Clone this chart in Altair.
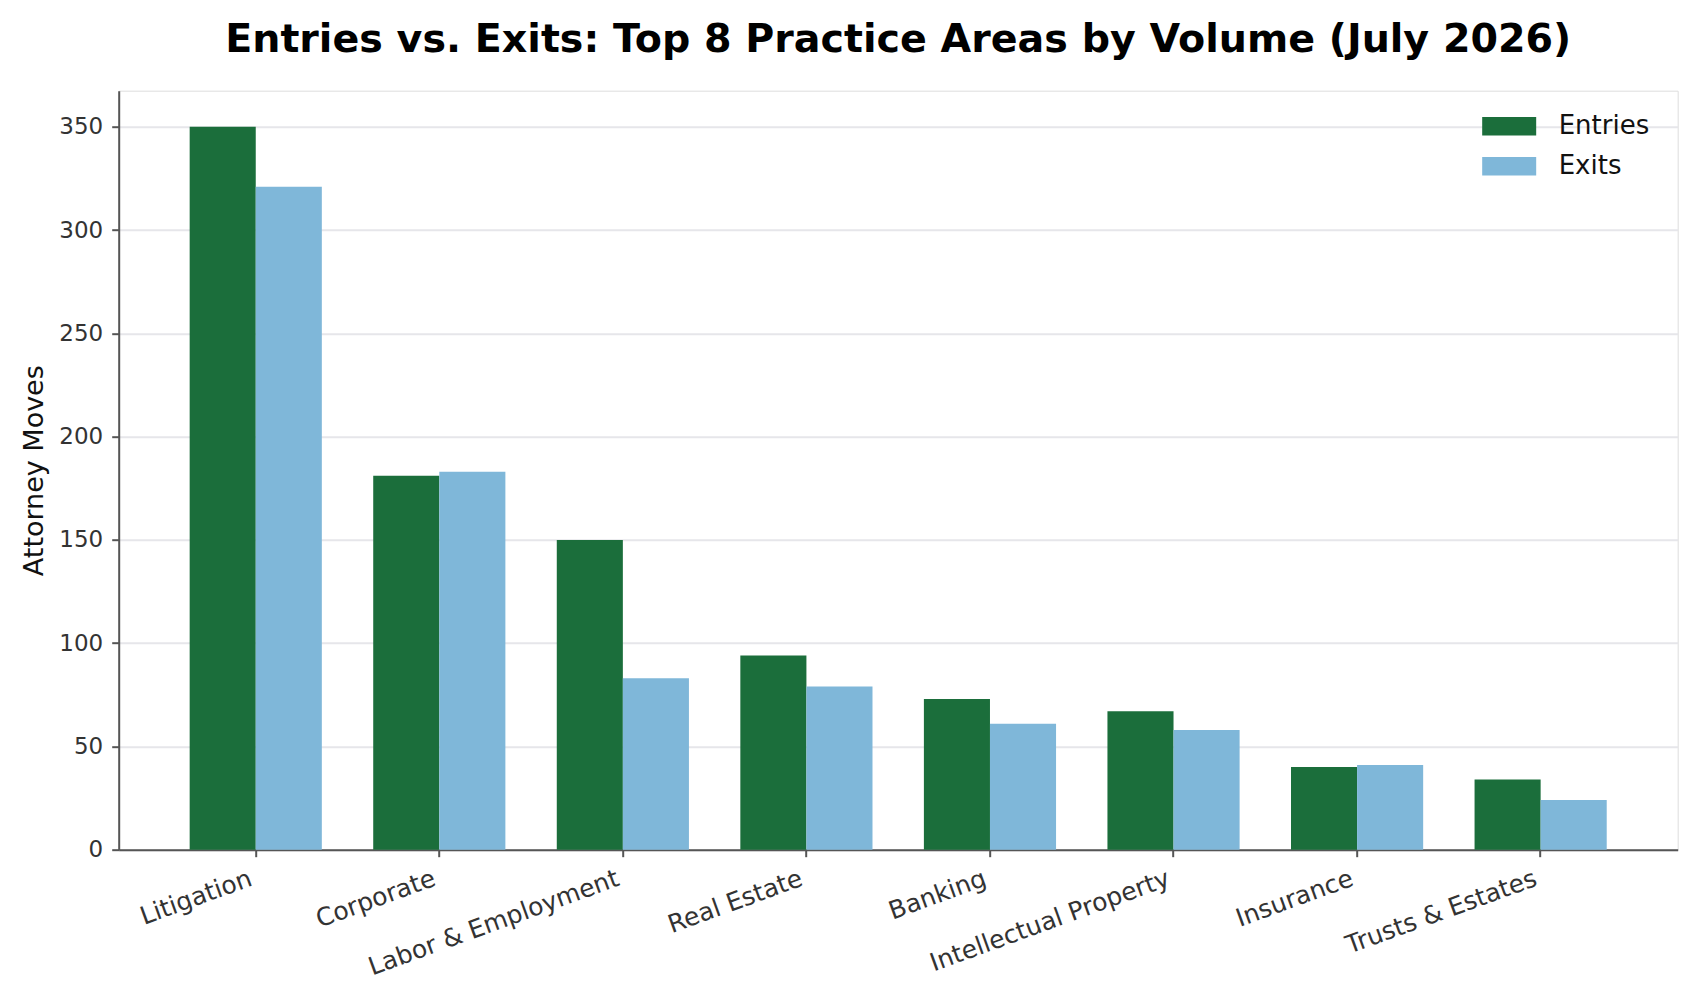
import altair as alt
import pandas as pd

categories = ["Litigation", "Corporate", "Labor & Employment", "Real Estate",
              "Banking", "Intellectual Property", "Insurance", "Trusts & Estates"]
entries = [350, 181, 150, 94, 73, 67, 40, 34]
exits = [321, 183, 83, 79, 61, 58, 41, 24]
series = ["Entries", "Exits"]
colors = ["#1b6e3b", "#7fb7d9"]
y_ticks = [0, 50, 100, 150, 200, 250, 300, 350]

rows = []
for c, e, x in zip(categories, entries, exits):
    rows.append({"area": c, "series": "Entries", "value": e})
    rows.append({"area": c, "series": "Exits", "value": x})
df = pd.DataFrame(rows)

FONT = "DejaVu Sans"
W, H = 1559, 759

chart = alt.Chart(df).mark_bar().encode(
    x=alt.X("area:N", sort=categories, title=None,
            scale=alt.Scale(paddingInner=0.28, paddingOuter=0.3866),
            axis=alt.Axis(labelAngle=340, labelAlign="right", labelBaseline="top",
                          labelFontSize=25, labelColor="#333333", labelFont=FONT,
                          tickSize=7, tickColor="#555555", tickWidth=2,
                          domainColor="#555555", domainWidth=2, labelPadding=9,
                          labelOffset=-9, labelLimit=0,
                          grid=False, labelOverlap=False)),
    xOffset=alt.XOffset("series:N", sort=series,
                        scale=alt.Scale(paddingInner=0, paddingOuter=0)),
    y=alt.Y("value:Q", title="Attorney Moves",
            scale=alt.Scale(domain=[0, 367.5], nice=False, zero=True),
            axis=alt.Axis(values=y_ticks, labelFontSize=23, labelColor="#333333",
                          labelFont=FONT, tickSize=7, tickColor="#555555", tickWidth=2,
                          domainColor="#555555", domainWidth=2, labelPadding=9,
                          grid=True, gridColor="#e6e6ea", gridWidth=2,
                          titleFontSize=27, titleFont=FONT, titleFontWeight="normal",
                          titleColor="#111111", titlePadding=10)),
    color=alt.Color("series:N", sort=series, title=None,
                    scale=alt.Scale(domain=series, range=colors),
                    legend=alt.Legend(orient="none", legendX=1377, legendY=22,
                                      symbolType="M-2,-0.69H2V0.69H-2Z",
                                      symbolSize=729, symbolStrokeWidth=0,
                                      symbolOpacity=1, labelFontSize=26,
                                      labelFont=FONT, labelColor="#111111",
                                      labelOffset=36, rowPadding=13, padding=0)),
).properties(
    width=W, height=H,
    title=alt.TitleParams("Entries vs. Exits: Top 8 Practice Areas by Volume (July 2026)",
                          fontSize=39.6, font=FONT, fontWeight="bold", color="#000000",
                          anchor="middle", baseline="alphabetic", offset=-1),
    autosize=alt.AutoSizeParams(type="none"),
    padding={"left": 110.7, "top": 82.7, "right": 13, "bottom": 140},
).configure_view(stroke=None).configure(background="white")

chart.save("out.html", embed_options={"renderer": "svg", "actions": False})
